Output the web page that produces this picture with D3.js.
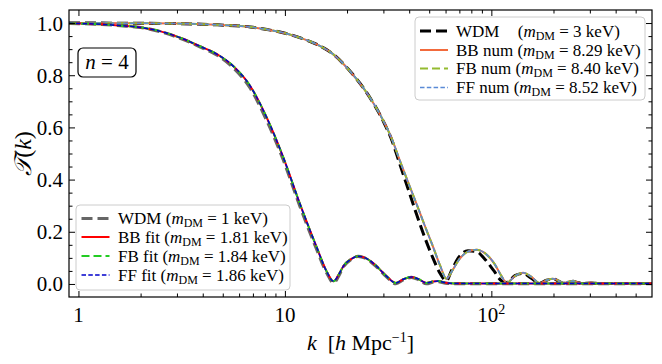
<!DOCTYPE html>
<html>
<head>
<meta charset="utf-8">
<script src="https://cdn.jsdelivr.net/npm/d3@7"></script>
<style>
  body { margin: 0; background: #fff; }
  text { font-family: "Liberation Serif", "DejaVu Serif", serif; white-space: pre; }
</style>
</head>
<body>
<div id="chart"></div>
<script>
// k grid and transfer functions (fit group, m_DM ~ 1.8 keV)
const kFit = [0.9, 1, 1.3, 1.6, 2, 2.5, 3.2, 3.9, 4.7, 5.6, 6.8, 8.15, 9.8, 11.8, 14.2, 16, 17.2, 18.2, 19.2, 21, 22.6, 24.5, 27.8, 31, 34.5, 37.5, 41, 44.5, 48.5, 52, 55.3, 60, 66, 80, 120, 600];
const tWdm1 = [0.999, 0.998, 0.995, 0.990, 0.983, 0.967, 0.938, 0.908, 0.877, 0.830, 0.750, 0.628, 0.478, 0.300, 0.136, 0.040, 0.004, 0.030, 0.066, 0.095, 0.106, 0.099, 0.066, 0.028, 0.001, 0.016, 0.025, 0.016, 0.001, 0.007, 0.009, 0.003, 0.001, 0.001, 0.001, 0.001];
const tFit = [0.999, 0.998, 0.995, 0.990, 0.983, 0.968, 0.940, 0.910, 0.880, 0.836, 0.758, 0.639, 0.487, 0.309, 0.144, 0.045, 0.010, 0.035, 0.068, 0.096, 0.106, 0.100, 0.068, 0.030, 0.004, 0.018, 0.027, 0.018, 0.004, 0.009, 0.011, 0.005, 0.002, 0.002, 0.002, 0.002];

// numerical group (m_DM ~ 8.4 keV) and WDM 3 keV
const kNum = [0.9, 1, 2, 3, 4.7, 6.8, 8.2, 9.8, 11.8, 14.2, 17.1, 20.6, 24.8, 29.9, 33, 36, 39.5, 43.3, 47.5, 52.1, 56.5, 60.6, 64, 70, 77, 84.8, 93, 103, 112, 118.5, 130, 142.6, 156, 171.6, 185, 199, 212, 222.8, 236, 249, 263, 278.5, 304, 330, 400, 600];
const tWdm3 = [1.0, 1.0, 0.999, 0.998, 0.993, 0.985, 0.975, 0.963, 0.944, 0.919, 0.881, 0.817, 0.735, 0.625, 0.55, 0.46, 0.365, 0.27, 0.18, 0.10, 0.04, 0.012, 0.05, 0.105, 0.127, 0.124, 0.095, 0.05, 0.012, 0.006, 0.032, 0.04, 0.022, 0.003, 0.014, 0.019, 0.011, 0.003, 0.008, 0.010, 0.005, 0.002, 0.004, 0.002, 0.002, 0.002];
const tNum = [1.0, 1.0, 0.999, 0.998, 0.993, 0.985, 0.975, 0.963, 0.944, 0.919, 0.881, 0.817, 0.735, 0.627, 0.555, 0.474, 0.39, 0.309, 0.225, 0.144, 0.07, 0.02, 0.045, 0.095, 0.124, 0.131, 0.118, 0.08, 0.03, 0.004, 0.03, 0.043, 0.028, 0.003, 0.014, 0.02, 0.012, 0.003, 0.009, 0.011, 0.006, 0.002, 0.005, 0.002, 0.002, 0.002];

const fitNames = ["WDM", "BB fit", "FB fit", "FF fit"];
const fitMasses = ["1", "1.81", "1.84", "1.86"];
const numNames = ["WDM", "BB num", "FB num", "FF num"];
const numMasses = ["3", "8.29", "8.40", "8.52"];

const xTicks = [1, 10, 100];
const yTicks = [0, 0.2, 0.4, 0.6, 0.8, 1.0];

const width = 662, height = 364;
const plot = {left: 69, right: 652, top: 10, bottom: 297};

const svg = d3.select("#chart").append("svg")
    .attr("width", width)
    .attr("height", height);

const x = d3.scaleLog().domain([0.9, 600]).range([plot.left, plot.right]);
const y = d3.scaleLinear().domain([-0.05, 1.05]).range([plot.bottom, plot.top]);

svg.append("clipPath").attr("id", "clip")
  .append("rect")
    .attr("x", plot.left).attr("y", plot.top)
    .attr("width", plot.right - plot.left).attr("height", plot.bottom - plot.top);

// line styles
const fitStyle = [
    {color: "#666666", w: 3.2, dash: "11,5"},
    {color: "#ff0000", w: 2, dash: null},
    {color: "#22cc22", w: 2, dash: "8,4"},
    {color: "#0000cc", w: 1.5, dash: "4.5,2.3"}
];
const numStyle = [
    {color: "#000000", w: 3, dash: "11,5"},
    {color: "#f26a3c", w: 2, dash: null},
    {color: "#94bb30", w: 2, dash: "8,4"},
    {color: "#5a8ad6", w: 1.5, dash: "4.5,2.3"}
];

const fitSeries = fitNames.map((n, i) => ({name: n, mass: fitMasses[i], k: kFit, t: i === 0 ? tWdm1 : tFit, style: fitStyle[i]}));
const numSeries = numNames.map((n, i) => ({name: n, mass: numMasses[i], k: kNum, t: i === 0 ? tWdm3 : tNum, style: numStyle[i]}));

const line = d3.line()
    .x(d => x(d[0]))
    .y(d => y(d[1]))
    .curve(d3.curveMonotoneX);

const curves = svg.append("g").attr("clip-path", "url(#clip)");

function drawSeries(list) {
    list.forEach(s => {
        curves.append("path")
            .datum(s.k.map((k, i) => [k, s.t[i]]))
            .attr("d", line)
            .attr("fill", "none")
            .attr("stroke", s.style.color)
            .attr("stroke-width", s.style.w)
            .attr("stroke-dasharray", s.style.dash)
            .attr("stroke-linejoin", "round");
    });
}
drawSeries(numSeries);
drawSeries(fitSeries);

// ticks, all inward on four sides
const xMinor = [];
[1, 10, 100].forEach(d => { for (let m = 2; m <= 9; m++) if (d * m < 600) xMinor.push(d * m); });
const yMinor = d3.range(0, 21).map(i => -0.05 + i * 0.05).filter(v => v > -0.04 && v < 1.04 && Math.abs(v * 5 - Math.round(v * 5)) > 0.01);

function tickGroup(axis, tx, ty) {
    const g = svg.append("g").attr("transform", `translate(${tx},${ty})`).call(axis);
    g.select(".domain").remove();
    g.selectAll("line").attr("stroke", "#000").attr("stroke-width", 1);
    return g;
}
tickGroup(d3.axisBottom(x).tickValues(xTicks).tickSize(-6).tickFormat(""), 0, plot.bottom);
tickGroup(d3.axisBottom(x).tickValues(xMinor).tickSize(-3.5).tickFormat(""), 0, plot.bottom);
tickGroup(d3.axisTop(x).tickValues(xTicks).tickSize(-6).tickFormat(""), 0, plot.top);
tickGroup(d3.axisTop(x).tickValues(xMinor).tickSize(-3.5).tickFormat(""), 0, plot.top);
tickGroup(d3.axisLeft(y).tickValues(yTicks).tickSize(-6).tickFormat(""), plot.left, 0);
tickGroup(d3.axisLeft(y).tickValues(yMinor).tickSize(-3.5).tickFormat(""), plot.left, 0);
tickGroup(d3.axisRight(y).tickValues(yTicks).tickSize(-6).tickFormat(""), plot.right, 0);
tickGroup(d3.axisRight(y).tickValues(yMinor).tickSize(-3.5).tickFormat(""), plot.right, 0);

svg.append("rect")
    .attr("x", plot.left).attr("y", plot.top)
    .attr("width", plot.right - plot.left).attr("height", plot.bottom - plot.top)
    .attr("fill", "none").attr("stroke", "#000").attr("stroke-width", 1.2);

// tick labels
svg.selectAll(".ylab").data(yTicks).join("text")
    .attr("x", 63).attr("y", d => y(d) + 7.5)
    .attr("text-anchor", "end")
    .attr("font-size", 21)
    .text(d3.format(".1f"));

xTicks.forEach(d => {
    const t = svg.append("text")
        .attr("x", x(d)).attr("y", 322)
        .attr("text-anchor", "middle")
        .attr("font-size", 21);
    if (d < 100) t.text(d);
    else {
        t.append("tspan").text("10");
        t.append("tspan").attr("font-size", 14).attr("dy", -8).text("2");
    }
});

// axis titles
const xt = svg.append("text")
    .attr("x", (plot.left + plot.right) / 2).attr("y", 350)
    .attr("text-anchor", "middle").attr("font-size", 22);
xt.append("tspan").attr("font-style", "italic").text("k");
xt.append("tspan").text("  [");
xt.append("tspan").attr("font-style", "italic").text("h");
xt.append("tspan").text(" Mpc");
xt.append("tspan").attr("font-size", 14).attr("dy", -8).text("\u22121");
xt.append("tspan").attr("dy", 8).text("]");

const yt = svg.append("text")
    .attr("transform", `translate(31,${(plot.top + plot.bottom) / 2}) rotate(-90)`)
    .attr("text-anchor", "middle").attr("font-size", 24);
yt.append("tspan").attr("font-style", "italic").text("\u{1D4AF}");
yt.append("tspan").text("(");
yt.append("tspan").attr("font-style", "italic").text("k");
yt.append("tspan").text(")");

// n = 4 box
svg.append("rect")
    .attr("x", 78).attr("y", 48).attr("width", 58).attr("height", 29).attr("rx", 5)
    .attr("fill", "#fff").attr("stroke", "#000").attr("stroke-width", 1.2);
const nt = svg.append("text").attr("x", 107).attr("y", 69).attr("text-anchor", "middle").attr("font-size", 21);
nt.append("tspan").attr("font-style", "italic").text("n");
nt.append("tspan").text(" = 4");

// legends
function legend(series, box, rows, handleX, textX, firstGap) {
    svg.append("rect")
        .attr("x", box.x).attr("y", box.y).attr("width", box.w).attr("height", box.h).attr("rx", 4)
        .attr("fill", "#fff").attr("fill-opacity", 0.8)
        .attr("stroke", "#cccccc").attr("stroke-width", 1);
    series.forEach((s, i) => {
        const yy = rows[i];
        svg.append("line")
            .attr("x1", handleX).attr("x2", handleX + 28).attr("y1", yy).attr("y2", yy)
            .attr("stroke", s.style.color).attr("stroke-width", s.style.w)
            .attr("stroke-dasharray", s.style.dash);
        const t = svg.append("text").attr("x", textX).attr("y", yy + 5.5).attr("font-size", 17);
        t.append("tspan").text(s.name);
        t.append("tspan").attr("dx", i === 0 ? firstGap : 0).text(" (");
        t.append("tspan").attr("font-style", "italic").text("m");
        t.append("tspan").attr("font-size", 12).attr("dy", 3).text("DM");
        t.append("tspan").attr("dy", -3).text(` = ${s.mass} keV)`);
    });
}
legend(numSeries, {x: 415, y: 17, w: 230, h: 83}, [31, 50, 68.5, 87.5], 420, 456, 14);
legend(fitSeries, {x: 76, y: 205, w: 214, h: 85}, [218.5, 237, 256, 275], 81.5, 118, 0);
</script>
</body>
</html>
